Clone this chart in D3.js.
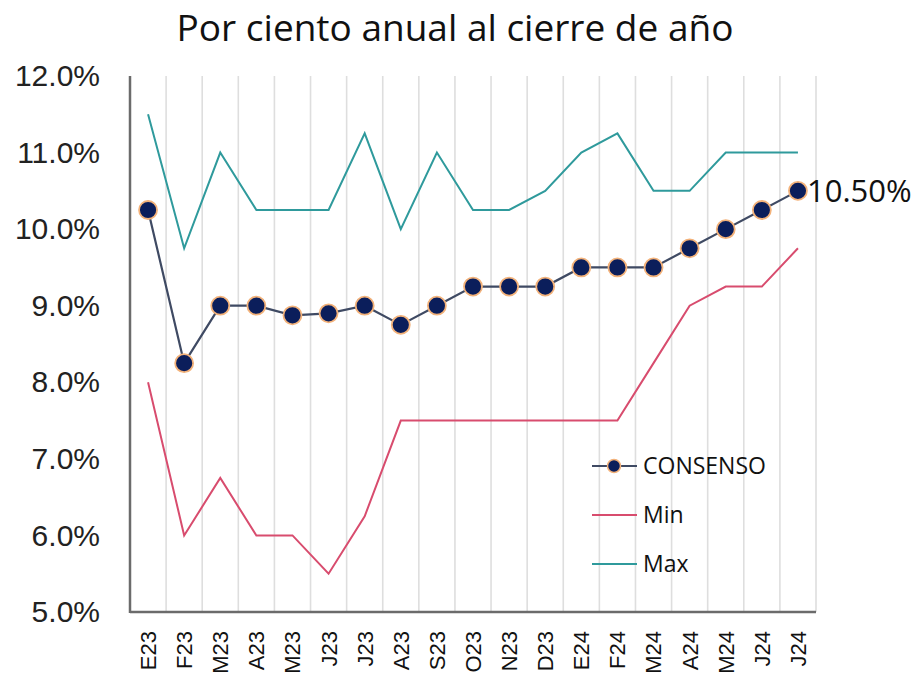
<!DOCTYPE html>
<html><head><meta charset="utf-8">
<script src="https://cdn.jsdelivr.net/npm/d3@7"></script>
<style>body{margin:0;background:#fff}svg{display:block}</style>
</head><body>
<svg id="c" width="924" height="686"></svg>
<script>
const categories = ["E23","F23","M23","A23","M23","J23","J23","A23","S23","O23","N23","D23","E24","F24","M24","A24","M24","J24","J24"];
const consenso = [10.25,8.25,9.0,9.0,8.875,8.9,9.0,8.75,9.0,9.25,9.25,9.25,9.5,9.5,9.5,9.75,10.0,10.25,10.5];
const minVals = [8.0,6.0,6.75,6.0,6.0,5.5,6.25,7.5,7.5,7.5,7.5,7.5,7.5,7.5,8.25,9.0,9.25,9.25,9.75];
const maxVals = [11.5,9.75,11.0,10.25,10.25,10.25,11.25,10.0,11.0,10.25,10.25,10.5,11.0,11.25,10.5,10.5,11.0,11.0,11.0];
const yTicks = [5,6,7,8,9,10,11,12];
const title = "Por ciento anual al cierre de año";
const lastLabel = "10.50%";
const legendNames = ["CONSENSO","Min","Max"];

const svg = d3.select("#c");
const L = 130, R = 816, T = 76, B = 612;
const x = d3.scaleBand().domain(d3.range(categories.length)).range([L, R]);
const y = d3.scaleLinear().domain([5, 12]).range([B, T]);
const cx = i => x(i) + x.bandwidth() / 2;

// title
svg.append("text").attr("x", 455).attr("y", 41).attr("text-anchor", "middle")
  .attr("font-family", "Open Sans, sans-serif").attr("font-size", 37).attr("fill", "#111")
  .text(title);

// vertical gridlines at band boundaries
const g = svg.append("g");
g.selectAll("line.grid").data(d3.range(1, categories.length + 1)).join("line")
  .attr("x1", i => x(i - 1) + x.bandwidth()).attr("x2", i => x(i - 1) + x.bandwidth())
  .attr("y1", T).attr("y2", B).attr("stroke", "#dedede").attr("stroke-width", 1.6);

// y axis
const yAxis = d3.axisLeft(y).tickValues(yTicks).tickSize(0).tickPadding(30)
  .tickFormat(d => d3.format(".1f")(d) + "%");
const ya = svg.append("g").attr("transform", `translate(${L},0)`).call(yAxis);
ya.select(".domain").remove();
ya.selectAll("text").attr("font-family", "Liberation Sans, Arial, sans-serif")
  .attr("font-size", 30).attr("fill", "#222");

// x axis
const xAxis = d3.axisBottom(x).tickSize(0).tickPadding(0).tickFormat(i => categories[i]);
const xa = svg.append("g").attr("transform", `translate(0,${B})`).call(xAxis);
xa.select(".domain").remove();
xa.selectAll("text").attr("font-family", "Liberation Sans, Arial, sans-serif")
  .attr("font-size", 22).attr("fill", "#111")
  .attr("transform", "rotate(-90)").attr("text-anchor", "end")
  .attr("x", -19).attr("y", 0).attr("dy", "0.36em");

// axis lines
svg.append("line").attr("x1", L).attr("x2", L).attr("y1", T).attr("y2", B + 1)
  .attr("stroke", "#6b6b6b").attr("stroke-width", 2.5);
svg.append("line").attr("x1", L).attr("x2", R).attr("y1", B).attr("y2", B)
  .attr("stroke", "#6b6b6b").attr("stroke-width", 2.5);

const line = d3.line().x((d, i) => cx(i)).y(d => y(d));
svg.append("path").datum(maxVals).attr("d", line).attr("fill", "none")
  .attr("stroke", "#2f9a9c").attr("stroke-width", 2);
svg.append("path").datum(minVals).attr("d", line).attr("fill", "none")
  .attr("stroke", "#d84c6e").attr("stroke-width", 2);
svg.append("path").datum(consenso).attr("d", line).attr("fill", "none")
  .attr("stroke", "#3f4a63").attr("stroke-width", 2.2);
svg.selectAll("circle.pt").data(consenso).join("circle")
  .attr("cx", (d, i) => cx(i)).attr("cy", d => y(d)).attr("r", 9)
  .attr("fill", "#0b1e5b").attr("stroke", "#f3b27a").attr("stroke-width", 1.8);

// last value label
svg.append("text").attr("x", cx(categories.length - 1) + 9).attr("y", y(consenso[consenso.length - 1]))
  .attr("dy", "0.36em").attr("font-family", "Open Sans, sans-serif").attr("font-size", 31)
  .attr("fill", "#111").text(lastLabel);

// legend
const lg = svg.append("g");
const ly = [466, 515, 564];
const lcolors = ["#3f4a63", "#d84c6e", "#2f9a9c"];
legendNames.forEach((n, k) => {
  lg.append("line").attr("x1", 592).attr("x2", 637).attr("y1", ly[k]).attr("y2", ly[k])
    .attr("stroke", lcolors[k]).attr("stroke-width", 2);
  if (k === 0) lg.append("circle").attr("cx", 614).attr("cy", ly[k]).attr("r", 6.5)
    .attr("fill", "#0b1e5b").attr("stroke", "#f3b27a").attr("stroke-width", 1.5);
  lg.append("text").attr("x", 643).attr("y", ly[k]).attr("dy", "0.36em")
    .attr("font-family", "Open Sans, sans-serif").attr("font-size", 23).attr("fill", "#111").text(n);
});
</script>
</body></html>
